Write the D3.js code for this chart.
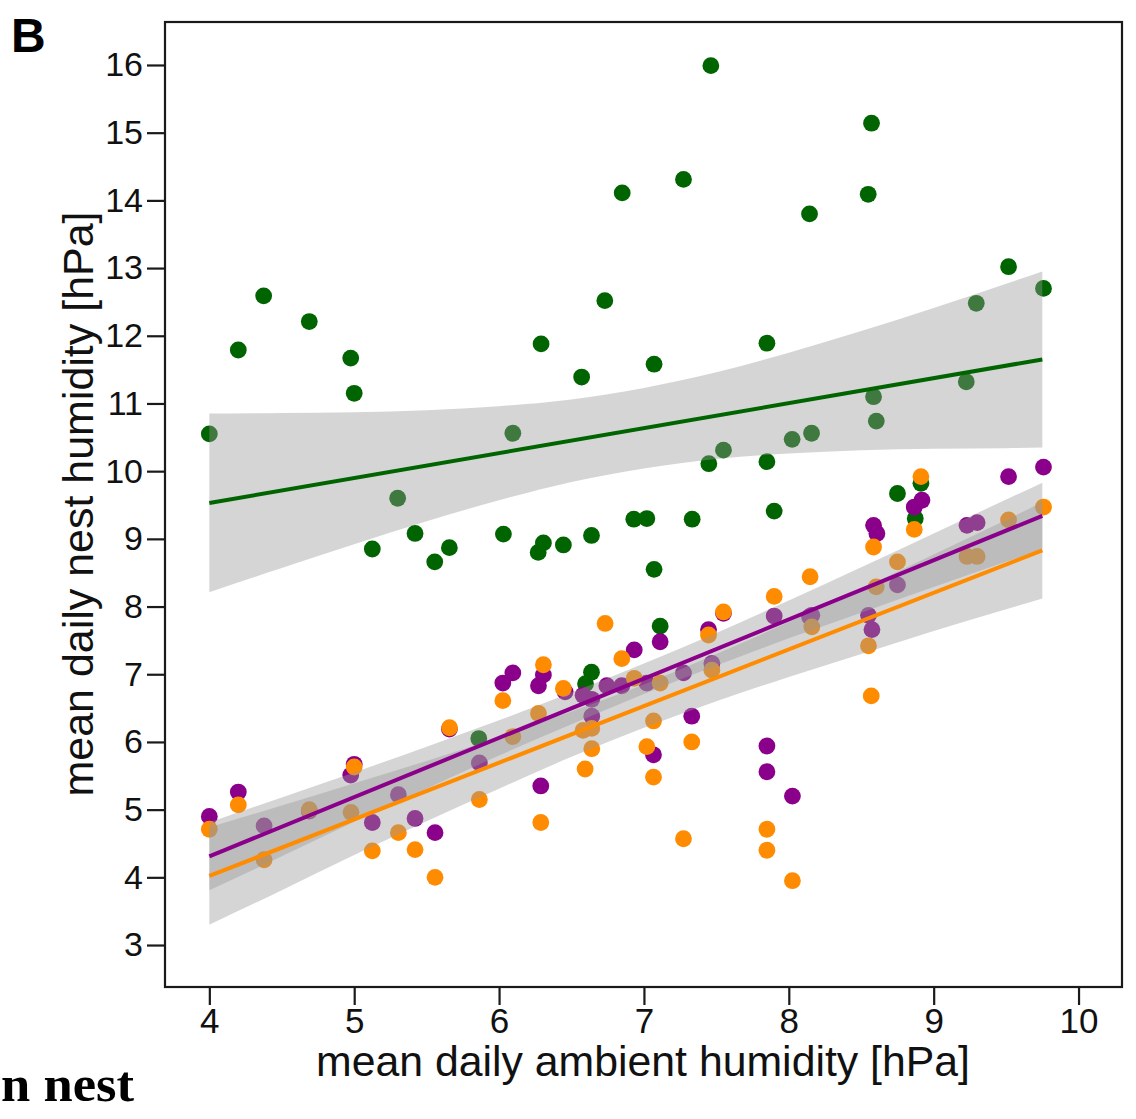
<!DOCTYPE html>
<html>
<head>
<meta charset="utf-8">
<script src="https://cdn.jsdelivr.net/npm/d3@7"></script>
<style>
  html, body { margin: 0; padding: 0; background: #fff; }
  svg { display: block; }
</style>
</head>
<body>
<svg id="chart" width="1136" height="1119"></svg>
<script>
// ---------------- DATA ----------------
const xTicks = [4, 5, 6, 7, 8, 9, 10];
const yTicks = [3, 4, 5, 6, 7, 8, 9, 10, 11, 12, 13, 14, 15, 16];

// green series (x = ambient, y = nest humidity)
const greenX = [4.00, 4.20, 4.375, 4.69, 4.976, 5.00, 5.125, 5.30, 5.42, 5.556, 5.657, 5.86, 6.03, 6.095, 6.27, 6.29, 6.306, 6.444, 6.57, 6.597, 6.638, 6.638, 6.73, 6.85, 6.93, 7.02, 7.07, 7.07, 7.112, 7.273, 7.333, 7.448, 7.462, 7.549, 7.849, 7.849, 7.899, 8.023, 8.143, 8.157, 8.548, 8.571, 8.585, 8.604, 8.75, 8.873, 8.912, 9.225, 9.294, 9.517, 9.758];
const greenY = [10.55, 11.79, 12.59, 12.21, 11.67, 11.15, 8.85, 9.60, 9.08, 8.66, 8.87, 6.05, 9.07, 10.56, 8.80, 11.88, 8.94, 8.91, 11.39, 6.86, 9.05, 7.03, 12.52, 14.11, 9.29, 9.30, 11.58, 8.55, 7.71, 14.31, 9.29, 10.11, 15.99, 10.31, 11.89, 10.14, 9.41, 10.47, 13.80, 10.56, 14.09, 15.14, 11.10, 10.74, 9.67, 9.30, 9.82, 11.32, 12.48, 13.02, 12.70];

// purple series
const purpleX = [4.00, 4.20, 4.378, 4.69, 4.976, 5.00, 5.125, 5.305, 5.42, 5.558, 5.657, 5.864, 6.026, 6.095, 6.272, 6.288, 6.306, 6.456, 6.58, 6.64, 6.64, 6.744, 6.847, 6.933, 7.02, 7.066, 7.112, 7.273, 7.33, 7.446, 7.469, 7.549, 7.849, 7.849, 7.899, 8.025, 8.143, 8.159, 8.55, 8.574, 8.585, 8.608, 8.75, 8.866, 8.919, 9.23, 9.30, 9.517, 9.758];
const purpleY = [4.90, 5.26, 4.76, 4.98, 5.51, 5.67, 4.81, 5.22, 4.87, 4.66, 6.19, 5.69, 6.87, 7.02, 6.83, 5.35, 6.99, 6.74, 6.69, 6.63, 6.38, 6.83, 6.83, 7.36, 6.87, 5.81, 7.48, 7.02, 6.38, 7.66, 7.16, 7.90, 5.94, 5.56, 7.86, 5.20, 7.85, 7.87, 7.87, 7.66, 9.20, 9.08, 8.32, 9.47, 9.57, 9.20, 9.24, 9.92, 10.06];

// orange series
const orangeX = [4.00, 4.20, 4.378, 4.69, 4.978, 5.00, 5.125, 5.305, 5.42, 5.558, 5.658, 5.864, 6.026, 6.095, 6.272, 6.288, 6.306, 6.444, 6.58, 6.64, 6.64, 6.594, 6.732, 6.847, 6.933, 7.02, 7.066, 7.066, 7.112, 7.273, 7.33, 7.446, 7.469, 7.549, 7.849, 7.849, 7.899, 8.025, 8.147, 8.159, 8.55, 8.569, 8.585, 8.603, 8.75, 8.866, 8.912, 9.23, 9.30, 9.517, 9.758];
const orangeY = [4.71, 5.07, 4.26, 5.00, 4.96, 5.63, 4.39, 4.66, 4.41, 4.00, 6.21, 5.15, 6.61, 6.08, 6.42, 4.81, 7.14, 6.79, 6.17, 6.20, 5.90, 5.60, 7.75, 7.23, 6.94, 5.93, 6.31, 5.48, 6.87, 4.57, 6.00, 7.58, 7.06, 7.92, 4.71, 4.40, 8.15, 3.95, 8.44, 7.70, 7.42, 6.68, 8.88, 8.29, 8.66, 9.14, 9.92, 8.74, 8.74, 9.28, 9.47];

// regression lines (end points)
const fitX = [4, 9.75];
const greenFit = [9.53, 11.65];
const purpleFit = [4.31, 9.34];
const orangeFit = [4.02, 8.83];

// confidence bands, read at these ambient values
const bandX = [4, 4.5, 5, 5.5, 6, 6.5, 7, 7.5, 8, 8.5, 9, 9.5, 9.75];
const greenUpper  = [10.85, 10.86, 10.87, 10.90, 10.96, 11.06, 11.23, 11.46, 11.75, 12.07, 12.41, 12.77, 12.95];
const greenLower  = [8.21, 8.57, 8.92, 9.26, 9.57, 9.84, 10.04, 10.18, 10.26, 10.31, 10.33, 10.34, 10.35];
const purpleUpper = [4.81, 5.18, 5.55, 5.93, 6.32, 6.73, 7.16, 7.61, 8.09, 8.58, 9.08, 9.58, 9.83];
const purpleLower = [3.81, 4.31, 4.82, 5.31, 5.80, 6.26, 6.71, 7.13, 7.53, 7.91, 8.29, 8.66, 8.85];
const orangeUpper = [4.74, 5.06, 5.39, 5.72, 6.07, 6.45, 6.85, 7.30, 7.77, 8.26, 8.77, 9.28, 9.54];
const orangeLower = [3.30, 3.81, 4.33, 4.83, 5.31, 5.78, 6.21, 6.60, 6.96, 7.30, 7.64, 7.96, 8.12];

const colors = { green: "#006400", purple: "#8b008b", orange: "#ff8c00" };

// ---------------- LAYOUT ----------------
const frame = { left: 165, right: 1122, top: 22, bottom: 987 };
const x = d3.scaleLinear().domain([3.694, 10.30]).range([frame.left, frame.right]);
const y = d3.scaleLinear().domain([2.38, 16.635]).range([frame.bottom, frame.top]);

const svg = d3.select("#chart");
const font = "'Liberation Sans', Arial, sans-serif";

// points (drawn first; the translucent bands fade them)
const series = [
  { xs: greenX, ys: greenY, c: colors.green },
  { xs: purpleX, ys: purpleY, c: colors.purple },
  { xs: orangeX, ys: orangeY, c: colors.orange }
];
const gPts = svg.append("g");
series.forEach(s => {
  gPts.selectAll(null)
    .data(s.xs.map((v, i) => [v, s.ys[i]]))
    .enter().append("circle")
    .attr("cx", d => x(d[0]))
    .attr("cy", d => y(d[1]))
    .attr("r", 8.4)
    .attr("fill", s.c);
});

// bands
const bands = [
  [greenUpper, greenLower],
  [purpleUpper, purpleLower],
  [orangeUpper, orangeLower]
];
const area = d3.area()
  .x(d => x(d.x))
  .y0(d => y(d.lo))
  .y1(d => y(d.hi))
  .curve(d3.curveMonotoneX);
bands.forEach(b => {
  svg.append("path")
    .datum(bandX.map((v, i) => ({ x: v, hi: b[0][i], lo: b[1][i] })))
    .attr("d", area)
    .attr("fill", "rgb(154,154,154)")
    .attr("fill-opacity", 0.41);
});

// fit lines
const line = d3.line().x(d => x(d[0])).y(d => y(d[1]));
[[greenFit, colors.green], [purpleFit, colors.purple], [orangeFit, colors.orange]].forEach(([f, c]) => {
  svg.append("path")
    .datum(fitX.map((v, i) => [v, f[i]]))
    .attr("d", line)
    .attr("fill", "none")
    .attr("stroke", c)
    .attr("stroke-width", 4);
});

// frame
svg.append("rect")
  .attr("x", frame.left).attr("y", frame.top)
  .attr("width", frame.right - frame.left)
  .attr("height", frame.bottom - frame.top)
  .attr("fill", "none").attr("stroke", "#1a1a1a").attr("stroke-width", 2.2);

// axes
const xAxis = svg.append("g")
  .attr("transform", `translate(0,${frame.bottom})`)
  .call(d3.axisBottom(x).tickValues(xTicks).tickSize(18).tickPadding(3).tickFormat(d3.format("d")));
xAxis.select(".domain").remove();
xAxis.selectAll("line").attr("stroke", "#1a1a1a").attr("stroke-width", 2.2);
xAxis.selectAll("text").attr("font-family", font).attr("font-size", 35).attr("fill", "#111");

const yAxis = svg.append("g")
  .attr("transform", `translate(${frame.left},0)`)
  .call(d3.axisLeft(y).tickValues(yTicks).tickSize(18).tickPadding(4).tickFormat(d3.format("d")));
yAxis.select(".domain").remove();
yAxis.selectAll("line").attr("stroke", "#1a1a1a").attr("stroke-width", 2.2);
yAxis.selectAll("text").attr("font-family", font).attr("font-size", 34).attr("fill", "#111");

// axis titles
svg.append("text")
  .attr("x", 643).attr("y", 1076)
  .attr("text-anchor", "middle")
  .attr("font-family", font).attr("font-size", 42).attr("fill", "#111")
  .attr("textLength", 654).attr("lengthAdjust", "spacingAndGlyphs")
  .text("mean daily ambient humidity [hPa]");

svg.append("text")
  .attr("transform", "translate(93,504) rotate(-90)")
  .attr("text-anchor", "middle")
  .attr("font-family", font).attr("font-size", 42).attr("fill", "#111")
  .attr("textLength", 585).attr("lengthAdjust", "spacingAndGlyphs")
  .text("mean daily nest humidity [hPa]");

// panel letter
svg.append("text")
  .attr("x", 11).attr("y", 52)
  .attr("font-family", font).attr("font-weight", "bold").attr("font-size", 48).attr("fill", "#000")
  .text("B");

// clipped caption fragment at bottom-left
svg.append("text")
  .attr("x", 1).attr("y", 1101)
  .attr("font-family", "'Liberation Serif', 'Times New Roman', serif").attr("font-weight", "bold")
  .attr("font-size", 50).attr("fill", "#000")
  .attr("textLength", 133).attr("lengthAdjust", "spacingAndGlyphs")
  .text("n nest");
</script>
</body>
</html>
